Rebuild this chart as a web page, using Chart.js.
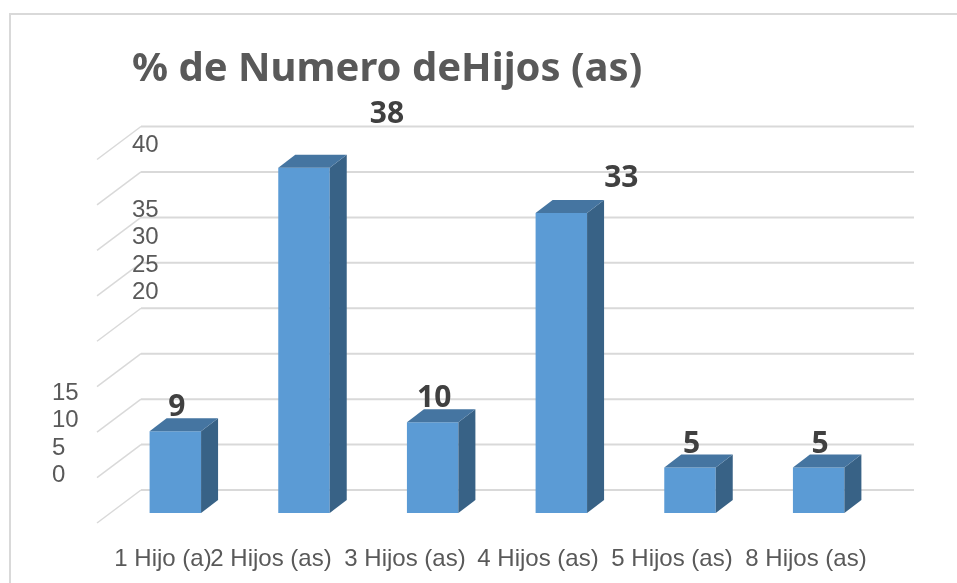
<!DOCTYPE html>
<html>
<head>
<meta charset="utf-8">
<script src="https://cdn.jsdelivr.net/npm/chart.js@4"></script>
<style>
  html, body { margin: 0; padding: 0; background: #fff; overflow: hidden; }
  canvas { position: absolute; left: 0; top: 0; }
</style>
</head>
<body>
<canvas id="hijos" width="957" height="583"></canvas>
<script>
const categorias = ["1 Hijo (a)", "2 Hijos (as)", "3 Hijos (as)", "4 Hijos (as)", "5 Hijos (as)", "8 Hijos (as)"];
const porcentajes = [9, 38, 10, 33, 5, 5];
const ticksY = ["0", "5", "10", "15", "20", "25", "30", "35", "40"];
const titulo = "% de Numero deHijos (as)";

// the source picture has its labels out of place, so these are placed by hand
const posTicksY = [[52, 475], [52, 448], [52, 420], [52, 393], [132, 292], [132, 265], [132, 237], [132, 210], [132, 145]];
const posCategorias = [163, 271, 405, 538, 672, 806];
const desvioValores = [[1.5, -24], [83, -53], [1.5, -24], [60, -35], [1.5, -23], [1.5, -23]];

const fondoX = 17, fondoY = -23;
const pisoY = 10;

const grisLinea = "#d9d9d9";
const grisTexto = "#595959";

const escena3d = {
  id: "escena3d",
  beforeDatasetsDraw(chart) {
    const ctx = chart.ctx;
    const y = chart.scales.y;
    const der = 914;
    ctx.save();
    // frame, only top and left show in the picture
    ctx.strokeStyle = grisLinea;
    ctx.lineWidth = 2;
    ctx.beginPath();
    ctx.moveTo(10, 583);
    ctx.lineTo(10, 14);
    ctx.lineTo(957, 14);
    ctx.stroke();
    // back wall lines and the diagonals on the side wall
    ticksY.forEach((t) => {
      const py = y.getPixelForValue(Number(t));
      ctx.lineWidth = 2;
      ctx.beginPath();
      ctx.moveTo(141, py + fondoY);
      ctx.lineTo(der, py + fondoY);
      ctx.stroke();
      ctx.lineWidth = 1.5;
      ctx.beginPath();
      ctx.moveTo(141, py + fondoY);
      ctx.lineTo(97, py + pisoY);
      ctx.stroke();
    });
    ctx.restore();
  },
  afterDatasetsDraw(chart) {
    const ctx = chart.ctx;
    const meta = chart.getDatasetMeta(0);
    ctx.save();
    meta.data.forEach((bar) => {
      const izq = bar.x - bar.width / 2;
      const der = bar.x + bar.width / 2;
      // side face
      ctx.fillStyle = "#386286";
      ctx.beginPath();
      ctx.moveTo(der, bar.y);
      ctx.lineTo(der + fondoX, bar.y - 13);
      ctx.lineTo(der + fondoX, bar.base - 13);
      ctx.lineTo(der, bar.base);
      ctx.closePath();
      ctx.fill();
      // top face
      ctx.fillStyle = "#4575a1";
      ctx.beginPath();
      ctx.moveTo(izq, bar.y);
      ctx.lineTo(izq + fondoX, bar.y - 13);
      ctx.lineTo(der + fondoX, bar.y - 13);
      ctx.lineTo(der, bar.y);
      ctx.closePath();
      ctx.fill();
    });
    ctx.restore();
  },
  afterDraw(chart) {
    const ctx = chart.ctx;
    const meta = chart.getDatasetMeta(0);
    ctx.save();
    ctx.textBaseline = "middle";

    ctx.fillStyle = grisTexto;
    ctx.textAlign = "left";
    ctx.font = "bold 40px 'Noto Sans'";
    ctx.fillText(titulo, 132, 70);

    ctx.font = "24px 'Liberation Sans'";
    ticksY.forEach((t, i) => ctx.fillText(t, posTicksY[i][0], posTicksY[i][1]));

    ctx.textAlign = "center";
    categorias.forEach((c, i) => ctx.fillText(c, posCategorias[i], 559));

    ctx.fillStyle = "#404040";
    ctx.font = "bold 30px 'Noto Sans'";
    porcentajes.forEach((v, i) => {
      const bar = meta.data[i];
      ctx.fillText(String(v), bar.x + desvioValores[i][0], bar.y + desvioValores[i][1]);
    });
    ctx.restore();
  },
};

new Chart(document.getElementById("hijos"), {
  type: "bar",
  data: {
    labels: categorias,
    datasets: [
      {
        label: "% de Numero de Hijos",
        data: porcentajes,
        backgroundColor: "#5b9bd5",
        barPercentage: 0.4,
        categoryPercentage: 1,
      },
    ],
  },
  options: {
    responsive: false,
    animation: false,
    layout: {
      padding: { left: 111, right: 74, top: 149.5, bottom: 70 },
    },
    scales: {
      x: { display: false },
      y: { display: false, min: 0, max: 40 },
    },
    plugins: {
      legend: { display: false },
      tooltip: { enabled: false },
    },
  },
  plugins: [escena3d],
});
</script>
</body>
</html>
